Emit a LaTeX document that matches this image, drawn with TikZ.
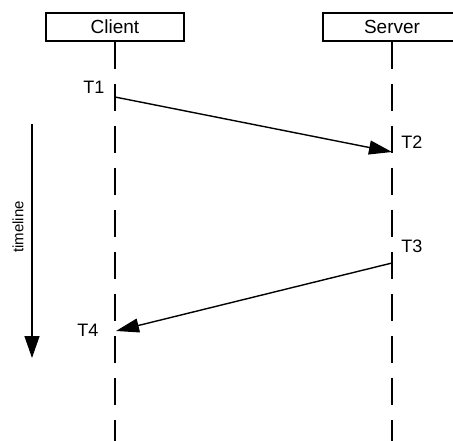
\documentclass[tikz,border=0pt]{standalone}
\usepackage{fontspec}
\setmainfont{Liberation Sans}
\usetikzlibrary{arrows.meta}
\begin{document}
\begin{tikzpicture}[x=1pt,y=-1pt,
  actor/.style={draw, line width=1.5pt, minimum width=138pt, minimum height=28pt,
    inner sep=0pt, font=\fontsize{19}{19}\selectfont},
  lifeline/.style={line width=1.5pt, dash pattern=on 27pt off 15pt},
  msg/.style={line width=1.4pt, -{Triangle[length=23pt,width=14pt]}},
  lbl/.style={font=\fontsize{18}{18}\selectfont, inner sep=0pt}]
\useasboundingbox (0,0) rectangle (453,441);

% participants
\node[actor] (client) at (115,27) {Client};
\node[actor] (server) at (392,27) {Server};

% lifelines
\coordinate (cend) at (115,441);
\coordinate (send) at (392,441);
\draw[lifeline] (client.south) -- (cend);
\draw[lifeline] (server.south) -- (send);

% message end points on the lifelines
\coordinate (t1) at (115,97);
\coordinate (t2) at (392,152);
\coordinate (t3) at (392,263);
\coordinate (t4) at (116,331);

\draw[msg] (t1) -- (t2);
\draw[msg] (t3) -- (t4);

\node[lbl] (l1) at (94,87) {T1};
\node[lbl] (l2) at (412,142) {T2};
\node[lbl] (l3) at (412,246) {T3};
\node[lbl] (l4) at (88,330) {T4};

% time axis
\coordinate (ttop) at (32,124);
\coordinate (tbot) at (32,358);
\draw[line width=1.4pt, -{Triangle[length=22pt,width=15pt]}] (ttop) -- (tbot);
\node[rotate=90, inner sep=0pt, font=\fontsize{15}{15}\selectfont] (tl) at (18,227) {timeline};
\end{tikzpicture}
\end{document}
